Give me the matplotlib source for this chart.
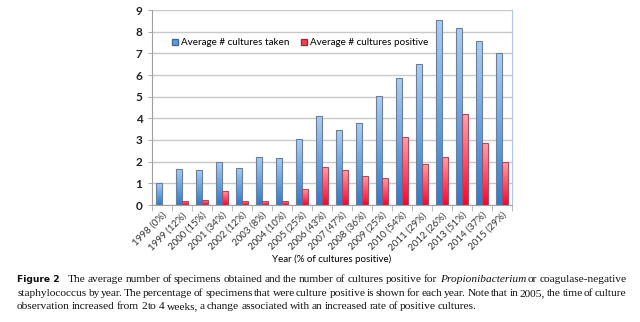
import numpy as np
import matplotlib
matplotlib.use("Agg")
import matplotlib.pyplot as plt
from matplotlib.colors import LinearSegmentedColormap
from matplotlib.patches import Patch

years = ["1998 (0%)", "1999 (12%)", "2000 (15%)", "2001 (34%)", "2002 (12%)", "2003 (8%)",
         "2004 (10%)", "2005 (25%)", "2006 (43%)", "2007 (47%)", "2008 (36%)", "2009 (25%)",
         "2010 (54%)", "2011 (29%)", "2012 (26%)", "2013 (51%)", "2014 (37%)", "2015 (29%)"]
taken = [1.0, 1.68, 1.62, 1.99, 1.71, 2.23, 2.19, 3.04, 4.11, 3.44, 3.78, 5.01,
         5.86, 6.53, 8.55, 8.18, 7.58, 7.01]
positive = [0.0, 0.2, 0.25, 0.66, 0.2, 0.18, 0.2, 0.75, 1.77, 1.63, 1.36, 1.25,
            3.16, 1.91, 2.22, 4.18, 2.84, 2.0]

fig = plt.figure(figsize=(6.4, 3.22), dpi=100)
ax = fig.add_axes([152/640, 1-205/322, 360/640, 195/322])

x = np.arange(len(years))
w = 0.3
blue_cmap = LinearSegmentedColormap.from_list("b", ["#2b7bd6", "#a9cdf7"])
red_cmap = LinearSegmentedColormap.from_list("r", ["#ff0030", "#ffa3a8"])

b1 = ax.bar(x - w/2, taken, w, color="none", edgecolor="#6f7f90", linewidth=0.8, zorder=3)
b2 = ax.bar(x + w/2, positive, w, color="none", edgecolor="#a05060", linewidth=0.8, zorder=3)

grad = np.linspace(0, 1, 256).reshape(-1, 1)
for bars, cmap in ((b1, blue_cmap), (b2, red_cmap)):
    for r in bars:
        bx, by = r.get_x(), r.get_y()
        bw, bh = r.get_width(), r.get_height()
        if bh <= 0:
            continue
        im = ax.imshow(grad, cmap=cmap, origin="lower", aspect="auto",
                       extent=[bx, bx + bw, by, by + bh], zorder=2)
        im.set_clip_path(r)

ax.set_xlim(-0.5, len(years) - 0.5)
ax.set_ylim(0, 9)
ax.set_yticks(range(0, 10))
ax.yaxis.grid(True, color="#c8c8c8", linewidth=1.0, zorder=0)
ax.set_axisbelow(True)
ax.set_xticks(x)
ax.set_xticklabels(years, rotation=45, ha="right", rotation_mode="anchor",
                   fontsize=7, family="Lato", color="#333333")
ax.set_xticks(np.arange(-0.5, len(years)), minor=True)
ax.tick_params(axis="x", which="major", length=0, pad=4)
ax.tick_params(axis="x", which="minor", length=4, color="#b0b0b0")
ax.tick_params(axis="y", length=3, color="#b0b0b0", labelsize=8.5, pad=4)
for lab in ax.get_yticklabels():
    lab.set_family("Lato")
    lab.set_fontweight("bold")
    lab.set_color("#222222")
ax.spines["left"].set_color("#a0a0a0")
ax.spines["bottom"].set_color("#a0a0a0")
ax.spines["right"].set_color("#a8c8ec")
ax.spines["top"].set_visible(False)

handles = [Patch(facecolor="#5a9be6", edgecolor="#4a6a90"), Patch(facecolor="#ff4050", edgecolor="#903040")]
ax.legend(handles, ["Average # cultures taken", "Average # cultures positive"], loc="upper left",
          bbox_to_anchor=(0.03, 0.90), ncol=2, frameon=False, handlelength=0.6, handleheight=0.6,
          handletextpad=0.3, columnspacing=1.2, prop={"family": "Lato", "size": 7.1})

ax.set_xlabel("Year (% of cultures positive)", fontsize=7, family="Lato", labelpad=0)
ax.xaxis.set_label_coords(0.5, -0.255)

# caption, word by word justified
renderer = fig.canvas.get_renderer()
serif = "Liberation Serif"
fs = 8.2
lines = [
    ("The average number of specimens obtained and the number of cultures positive for "
     "*Propionibacterium or coagulase-negative", 68, 627, 282),
    ("staphylococcus by year. The percentage of specimens that were culture positive is shown "
     "for each year. Note that in 2005, the time of culture", 17, 627, 296),
    ("observation increased from 2 to 4 weeks, a change associated with an increased rate of "
     "positive cultures.", 17, 477, 309),
]
fig.text(17/640, 1-282/322, "Figure 2", family="DejaVu Sans", fontweight="bold", fontsize=6.6,
         va="baseline", ha="left", color="#111111")

def width_of(s, style="normal"):
    t = fig.text(0, 0, s, family=serif, fontstyle=style, fontsize=fs)
    wv = t.get_window_extent(renderer).width
    t.remove()
    return wv

for text, x0, x1, ybase in lines:
    words = []
    for wd in text.split(" "):
        if wd.startswith("*"):
            words.append((wd[1:], "italic"))
        else:
            words.append((wd, "normal"))
    widths = [width_of(wd, st) for wd, st in words]
    gap = (x1 - x0 - sum(widths)) / (len(words) - 1)
    cx = x0
    for (wd, st), wdt in zip(words, widths):
        fig.text(round(cx) / 640, 1 - ybase / 322, wd, family=serif, fontstyle=st,
                 fontsize=fs, va="baseline", ha="left", color="#111111")
        cx += wdt + gap

fig.savefig("out.png", dpi=100)
